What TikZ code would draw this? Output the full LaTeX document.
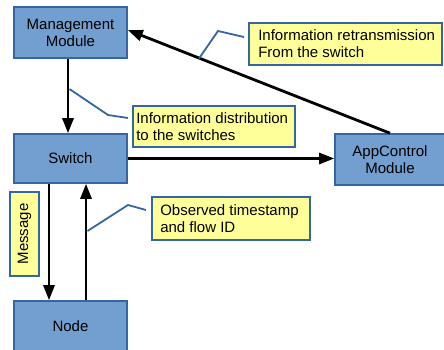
\documentclass[tikz,border=0pt]{standalone}
\usepackage{fontspec}
\setmainfont{Liberation Sans}
\usetikzlibrary{arrows.meta}
\definecolor{boxfill}{HTML}{729FCF}
\definecolor{boxline}{HTML}{3465A4}
\definecolor{notefill}{HTML}{FFFF99}
\begin{document}
\begin{tikzpicture}[x=1pt,y=-1pt,
  font=\fontsize{15}{17}\selectfont,
  mod/.style={draw=boxline,fill=boxfill,line width=1.6pt,align=center,inner sep=0pt,text=black},
  note/.style={draw=boxline,fill=notefill,line width=1.8pt,inner sep=0pt},
  notetext/.style={align=left,inner sep=0pt,anchor=west,text=black},
  arr/.style={line width=2.8pt,-{Triangle[length=15pt,width=11pt]}},
  ptr/.style={draw=boxline,line width=1.8pt}]
\useasboundingbox (0,0) rectangle (444,349);
% modules
\node[mod,minimum width=113pt,minimum height=51pt] (mgmt) at (70.5,32.5) {Management\\Module};
\node[mod,minimum width=113pt,minimum height=49pt] (sw) at (70.5,158.5) {Switch};
\node[mod,minimum width=110pt,minimum height=51pt] (app) at (390,159.5) {AppControl\\Module};
\node[mod,minimum width=113pt,minimum height=50pt] (nd) at (70.5,326) {Node};
% notes
\node[note,minimum width=193pt,minimum height=42pt] (retr) at (345.5,44) {};
\node[notetext] (retrtxt) at ([xshift=10pt]retr.west) {Information retransmission\\From the switch};
\node[note,minimum width=162pt,minimum height=41pt] (dist) at (214,126.5) {};
\node[notetext] (disttxt) at ([xshift=4pt]dist.west) {Information distribution\\to the switches};
\node[note,minimum width=158pt,minimum height=43pt] (obs) at (231,218.5) {};
\node[notetext] (obstxt) at ([xshift=9pt]obs.west) {Observed timestamp\\and flow ID};
\node[note,minimum width=84pt,minimum height=29pt,rotate=90,text=black] (msg) at (24.5,234) {Message};
% arrows
\draw[arr] ([xshift=-2.5pt]mgmt.south) -- ([xshift=-2.5pt]sw.north);
\draw[arr] (sw.east) -- (sw.east -| app.west);
\draw[arr] (app.north) -- ([yshift=2.5pt]mgmt.east);
\draw[arr] ([xshift=-21.5pt]sw.south) -- ([xshift=-21.5pt]nd.north);
\draw[arr] ([xshift=15.5pt]nd.north) -- ([xshift=15.5pt]sw.south);
% pointer lines
\coordinate (r1) at (244,37);
\coordinate (r2) at (218,31);
\coordinate (r3) at (199,58.5);
\draw[ptr] (r1) -- (r2) -- (r3);
\coordinate (d1) at (128,118);
\coordinate (d2) at (108,115);
\coordinate (d3) at (69.5,89);
\draw[ptr] (d1) -- (d2) -- (d3);
\coordinate (o1) at (146,210);
\coordinate (o2) at (128,205);
\coordinate (o3) at (87.5,231);
\draw[ptr] (o1) -- (o2) -- (o3);
\end{tikzpicture}
\end{document}
